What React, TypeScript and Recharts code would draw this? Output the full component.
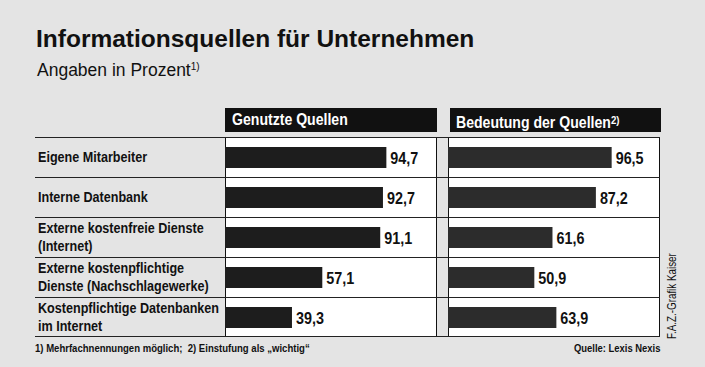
import React from "react";
import { BarChart, Bar, XAxis, YAxis, LabelList } from "recharts";

const categories = [
  "Eigene Mitarbeiter",
  "Interne Datenbank",
  "Externe kostenfreie Dienste\n(Internet)",
  "Externe kostenpflichtige\nDienste (Nachschlagewerke)",
  "Kostenpflichtige Datenbanken\nim Internet",
];
const genutzteQuellen = [94.7, 92.7, 91.1, 57.1, 39.3];
const bedeutungQuellen = [96.5, 87.2, 61.6, 50.9, 63.9];

const SANS = '"Liberation Sans", Arial, Helvetica, sans-serif';
const BG = "#e4e4e4";
const INK = "#111";
const DOMAIN: [number, number] = [0, 125];
const SQUEEZE = 0.88;

const left = categories.map((name, i) => ({ name, value: genutzteQuellen[i] }));
const right = categories.map((name, i) => ({ name, value: bedeutungQuellen[i] }));

const fmt = (v: unknown) => (typeof v === "number" ? v.toFixed(1).replace(".", ",") : String(v));

// condensed look: regular Helvetica-like face squeezed horizontally
function Narrow({ children, scale = SQUEEZE, origin = "left" }: { children: React.ReactNode; scale?: number; origin?: string }) {
  return (
    <span style={{ display: "inline-block", transform: `scaleX(${scale})`, transformOrigin: `${origin} center`, whiteSpace: "nowrap" }}>
      {children}
    </span>
  );
}

function RowTick(props: any) {
  const { y, payload } = props;
  const lines = String(payload.value).split("\n");
  const lh = 18;
  const start = y - ((lines.length - 1) * lh) / 2;
  return (
    <g transform={`translate(3, ${start}) scale(0.9, 1)`}>
      <text x={0} y={0} fill={INK} fontFamily={SANS} fontSize={14} fontWeight={700}>
        {lines.map((l, i) => (
          <tspan key={i} x={0} dy={i === 0 ? 5 : lh}>{l}</tspan>
        ))}
      </text>
    </g>
  );
}

function ValueLabel(props: any) {
  const { x, y, width, height, value } = props;
  const tx = Number(x) + Number(width) + 4;
  const ty = Number(y) + Number(height) / 2;
  return (
    <g transform={`translate(${tx}, ${ty}) scale(0.87, 1)`}>
      <text x={0} y={0} dy={6} fill={INK} fontFamily={SANS} fontSize={16.5} fontWeight={700}>
        {fmt(value)}
      </text>
    </g>
  );
}

const header: React.CSSProperties = {
  position: "absolute", top: 108, height: 24, background: INK, color: "#fff",
  fontFamily: SANS, fontWeight: 700, fontSize: 16, lineHeight: "24px", boxSizing: "border-box",
};

export default function App() {
  const rowTop = 137;
  const rowH = 40;
  return (
    <div style={{ position: "absolute", left: 0, top: 0, width: 705, height: 367, background: BG, overflow: "hidden", fontFamily: SANS, color: INK }}>
      {/* Title */}
      <div style={{ position: "absolute", left: 36, top: 27, fontWeight: 700, fontSize: 24.5, lineHeight: "24px", whiteSpace: "nowrap" }}>
        Informationsquellen für Unternehmen
      </div>
      <div style={{ position: "absolute", left: 37, top: 58, fontSize: 17.5, lineHeight: "18px", whiteSpace: "nowrap" }}>
        <Narrow scale={1}>Angaben in Prozent<span style={{ fontSize: 10, verticalAlign: 6 }}>1)</span></Narrow>
      </div>

      {/* Column headers */}
      <div style={{ ...header, left: 225, width: 212, paddingLeft: 7 }}>
        <Narrow>Genutzte Quellen</Narrow>
      </div>
      <div style={{ ...header, left: 450, width: 211, paddingLeft: 6 }}>
        <Narrow>Bedeutung der Quellen<span style={{ fontSize: 11, verticalAlign: 4 }}>2)</span></Narrow>
      </div>

      {/* Panels */}
      <div style={{ position: "absolute", left: 225, top: rowTop, width: 212, height: rowH * 5, background: "#fff", border: "1.5px solid #111", boxSizing: "border-box" }} />
      <div style={{ position: "absolute", left: 448, top: rowTop, width: 212, height: rowH * 5, background: "#fff", border: "1.5px solid #111", boxSizing: "border-box" }} />

      {/* Row separators */}
      {categories.map((c, i) => (
        <div key={c} style={{ position: "absolute", left: 35, top: rowTop + i * rowH, width: 625, height: rowH, borderTop: "1.5px solid #222", borderBottom: i === categories.length - 1 ? "1.5px solid #222" : undefined, boxSizing: "border-box" }} />
      ))}

      <div style={{ position: "absolute", left: 35, top: rowTop }}>
        <BarChart width={403} height={rowH * 5} data={left} layout="vertical" margin={{ top: 0, right: 0, bottom: 0, left: 0 }}>
          <XAxis type="number" domain={DOMAIN} hide />
          <YAxis type="category" dataKey="name" width={190} axisLine={false} tickLine={false} tick={<RowTick />} interval={0} />
          <Bar dataKey="value" fill="#1d1d1d" barSize={21} isAnimationActive={false}>
            <LabelList dataKey="value" content={<ValueLabel />} />
          </Bar>
        </BarChart>
      </div>

      <div style={{ position: "absolute", left: 448, top: rowTop }}>
        <BarChart width={212} height={rowH * 5} data={right} layout="vertical" margin={{ top: 0, right: 0, bottom: 0, left: 0 }}>
          <XAxis type="number" domain={DOMAIN} hide />
          <YAxis type="category" dataKey="name" hide />
          <Bar dataKey="value" fill="#2c2c2c" barSize={21} isAnimationActive={false}>
            <LabelList dataKey="value" content={<ValueLabel />} />
          </Bar>
        </BarChart>
      </div>

      {/* Footer */}
      <div style={{ position: "absolute", left: 35, top: 341, fontSize: 11.5, lineHeight: "14px", fontWeight: 700 }}>
        <Narrow scale={0.83}>1) Mehrfachnennungen möglich;&nbsp; 2) Einstufung als „wichtig“</Narrow>
      </div>
      <div style={{ position: "absolute", right: 705 - 660, top: 341, fontSize: 11.5, lineHeight: "14px", fontWeight: 700 }}>
        <Narrow scale={0.82} origin="right">Quelle: Lexis Nexis</Narrow>
      </div>
      <div style={{ position: "absolute", left: 665, top: 339, transform: "rotate(-90deg) scaleX(0.82)", transformOrigin: "left top", fontSize: 12, lineHeight: "14px", whiteSpace: "nowrap" }}>
        F.A.Z.-Grafik Kaiser
      </div>
    </div>
  );
}
